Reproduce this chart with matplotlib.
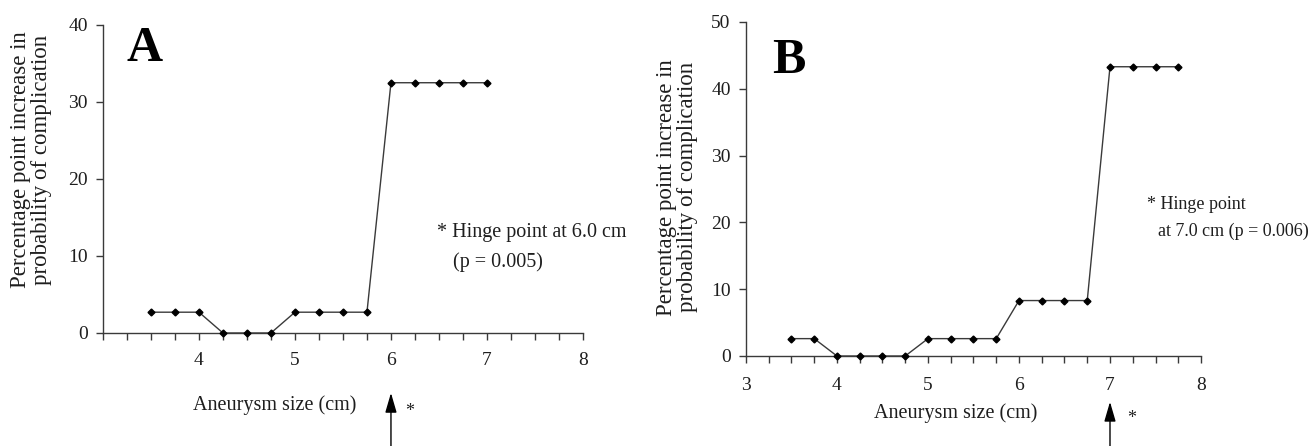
import matplotlib
matplotlib.use("Agg")
import matplotlib.pyplot as plt
from matplotlib.ticker import MultipleLocator
from matplotlib.transforms import blended_transform_factory

plt.rcParams["font.family"] = ["Liberation Serif", "DejaVu Serif"]

# -------------------------------------------------
# data
# -------------------------------------------------
size_a = [3.5, 3.75, 4.0, 4.25, 4.5, 4.75, 5.0, 5.25, 5.5, 5.75, 6.0, 6.25, 6.5, 6.75, 7.0]
incr_a = [2.7, 2.7, 2.7, 0.0, 0.0, 0.0, 2.7, 2.7, 2.7, 2.7, 32.5, 32.5, 32.5, 32.5, 32.5]

size_b = [3.5, 3.75, 4.0, 4.25, 4.5, 4.75, 5.0, 5.25, 5.5, 5.75, 6.0, 6.25, 6.5, 6.75,
          7.0, 7.25, 7.5, 7.75]
incr_b = [2.6, 2.6, 0.0, 0.0, 0.0, 0.0, 2.6, 2.6, 2.6, 2.6, 8.3, 8.3, 8.3, 8.3,
          43.3, 43.3, 43.3, 43.3]

xticks = [3, 4, 5, 6, 7, 8]
xlabels_a = ["", "4", "5", "6", "7", "8"]
xlabels_b = ["3", "4", "5", "6", "7", "8"]
yticks_a = [0, 10, 20, 30, 40]
yticks_b = [0, 10, 20, 30, 40, 50]

hinge_a = 6.0
hinge_b = 7.0

INK = "#1e1e1e"
LINE = "#3a3a3a"

fig = plt.figure(figsize=(13.08, 4.46), dpi=100)

ax_a = fig.add_axes([0.0787, 0.2534, 0.3670, 0.6906])
ax_b = fig.add_axes([0.5703, 0.2018, 0.3479, 0.7489])


def style_axis(ax, yticks, xlabels, xpad):
    for side in ("top", "right"):
        ax.spines[side].set_visible(False)
    for side in ("left", "bottom"):
        ax.spines[side].set_color(LINE)
        ax.spines[side].set_linewidth(1.0)
    ax.set_xlim(3, 8)
    ax.set_ylim(yticks[0], yticks[-1])
    ax.set_xticks(xticks)
    ax.set_xticklabels(xlabels)
    ax.xaxis.set_minor_locator(MultipleLocator(0.25))
    ax.set_yticks(yticks)
    ax.tick_params(axis="x", which="both", direction="out", length=5, width=1.0,
                   color=LINE, labelsize=14, labelcolor=INK, pad=xpad)
    ax.tick_params(axis="y", which="major", direction="out", length=5, width=1.0,
                   color=LINE, labelsize=14, labelcolor=INK, pad=6)
    ax.tick_params(axis="y", which="minor", length=0)


def hinge_arrow(ax, x, tip_y, star_x, star_y):
    # arrow rising from the bottom edge of the figure, with its asterisk
    ax.annotate("", xy=(x, tip_y), xytext=(x, 0.0),
                xycoords=("data", "figure fraction"),
                textcoords=("data", "figure fraction"),
                arrowprops=dict(arrowstyle="-|>,head_length=1.2,head_width=0.35",
                                color="black", lw=1.0, shrinkA=0, shrinkB=0))
    trans = blended_transform_factory(ax.transData, fig.transFigure)
    fig.text(star_x, star_y, "*", transform=trans, fontsize=13, color=INK,
             ha="center", va="center")


# -----------------------------
# panel A
# -----------------------------
ax_a.plot(size_a, incr_a, color=LINE, linewidth=1.0, marker="D", markersize=3.5,
          markerfacecolor="black", markeredgecolor="black", clip_on=False, zorder=3)
style_axis(ax_a, yticks_a, xlabels_a, xpad=9)

ax_a.text(6.48, 12.5, "* Hinge point at 6.0 cm", fontsize=14.5, color=INK, va="baseline")
ax_a.text(6.65, 8.6, "(p = 0.005)", fontsize=14.5, color=INK, va="baseline")
ax_a.text(3.25, 35.3, "A", fontsize=36, fontweight="bold", color="black", va="baseline")

fig.text(0.0237, 0.641, "Percentage point increase in\nprobability of complication",
         rotation=90, fontsize=16.5, color=INK, ha="center", va="center", linespacing=1.05)
fig.text(0.210, 0.092, "Aneurysm size (cm)", fontsize=14.5, color=INK,
         ha="center", va="center")

hinge_arrow(ax_a, hinge_a, 0.119, 6.19, 0.078)

# -----------------------------
# panel B
# -----------------------------
ax_b.plot(size_b, incr_b, color=LINE, linewidth=1.0, marker="D", markersize=3.5,
          markerfacecolor="black", markeredgecolor="black", clip_on=False, zorder=3)
style_axis(ax_b, yticks_b, xlabels_b, xpad=10)

ax_b.text(7.41, 22.0, "* Hinge point", fontsize=13, color=INK, va="baseline")
ax_b.text(7.53, 18.0, "at 7.0 cm (p = 0.006)", fontsize=13, color=INK, va="baseline")
ax_b.text(3.29, 42.4, "B", fontsize=36, fontweight="bold", color="black", va="baseline")

fig.text(0.5176, 0.58, "Percentage point increase in\nprobability of complication",
         rotation=90, fontsize=16.5, color=INK, ha="center", va="center", linespacing=1.05)
fig.text(0.731, 0.074, "Aneurysm size (cm)", fontsize=14.5, color=INK,
         ha="center", va="center")

hinge_arrow(ax_b, hinge_b, 0.099, 7.24, 0.062)

fig.savefig("out.png", dpi=100)
